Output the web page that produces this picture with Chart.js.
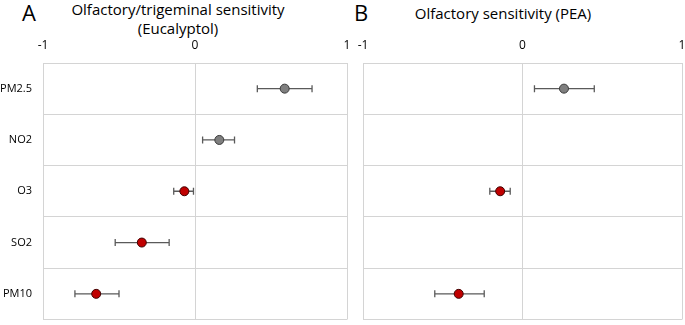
<!DOCTYPE html>
<html>
<head>
<meta charset="utf-8">
<script src="https://cdn.jsdelivr.net/npm/chart.js@4"></script>
<style>
  html, body { margin: 0; padding: 0; background: #fff; }
  body { width: 685px; height: 325px; position: relative; overflow: hidden; font-family: 'Open Sans', sans-serif; color: #000; }
  canvas { position: absolute; top: 0; }
  .letter { position: absolute; top: -3px; font-size: 22px; }
  .title { position: absolute; font-size: 15px; text-align: center; line-height: 19px; }
</style>
</head>
<body>
<div class="letter" style="left:22px">A</div>
<div class="title" style="left:28px; width:300px; top:0px">Olfactory/trigeminal sensitivity<br>(Eucalyptol)</div>
<div class="letter" style="left:354px">B</div>
<div class="title" style="left:398px; width:210px; top:4px">Olfactory sensitivity (PEA)</div>
<canvas id="chart-euc" width="355" height="325" style="left:0"></canvas>
<canvas id="chart-pea" width="340" height="325" style="left:355px"></canvas>
<script>
// ── data ──
const CATS = ['PM2.5', 'NO2', 'O3', 'SO2', 'PM10'];
const X_TICKS = [-1, 0, 1];

const EUC_MEAN = [0.59, 0.16, -0.07, -0.35, -0.65];
const EUC_LO   = [0.41, 0.05, -0.14, -0.525, -0.79];
const EUC_HI   = [0.77, 0.26, -0.01, -0.17, -0.50];

const PEA_MEAN = [0.26, null, -0.14, null, -0.40];
const PEA_LO   = [0.075, null, -0.205, null, -0.55];
const PEA_HI   = [0.45, null, -0.077, null, -0.24];

const DOT_COLORS = ['#7f7f7f', '#7f7f7f', '#c00000', '#c00000', '#c00000'];

const GRID = '#d4d4d4';
const FONT_X = { family: 'Open Sans', size: 12 };
const FONT_Y = { family: 'Open Sans', size: 11 };

// horizontal error bars, drawn under the markers
const errorBars = {
  id: 'errorBars',
  beforeDatasetsDraw(chart, args, opts) {
    const { ctx, scales: { x, y } } = chart;
    ctx.save();
    ctx.strokeStyle = '#5a5a5a';
    ctx.lineWidth = 1.3;
    CATS.forEach((c, i) => {
      if (opts.lo[i] == null) return;
      const py = y.getPixelForValue(i);
      const x0 = x.getPixelForValue(opts.lo[i]);
      const x1 = x.getPixelForValue(opts.hi[i]);
      ctx.beginPath();
      ctx.moveTo(x0, py); ctx.lineTo(x1, py);
      ctx.moveTo(x0, py - 3.5); ctx.lineTo(x0, py + 3.5);
      ctx.moveTo(x1, py - 3.5); ctx.lineTo(x1, py + 3.5);
      ctx.stroke();
    });
    ctx.restore();
  }
};

// fixed axis box sizes, no extra room for overhanging tick labels
const fixAxis = (w, h) => s => {
  s.paddingLeft = 0; s.paddingRight = 0; s.paddingTop = 0; s.paddingBottom = 0;
  if (w != null) s.width = w;
  if (h != null) s.height = h;
};

function buildForest(id, mean, lo, hi, showLabels, yWidth, pad) {
  const idx = CATS.map((c, i) => i).filter(i => mean[i] != null);
  const cols = idx.map(i => DOT_COLORS[i]);
  return new Chart(document.getElementById(id), {
    type: 'scatter',
    data: {
      datasets: [{
        data: idx.map(i => ({ x: mean[i], y: CATS[i] })),
        pointBackgroundColor: cols,
        pointBorderColor: cols.map(c => c === '#c00000' ? '#400000' : '#3a3a3a'),
        pointBorderWidth: 1,
        pointRadius: 4.5,
        showLine: false,
      }]
    },
    options: {
      responsive: false,
      animation: false,
      layout: { padding: pad },
      plugins: {
        legend: { display: false },
        tooltip: { enabled: false },
        errorBars: { lo: lo, hi: hi },
      },
      scales: {
        x: {
          type: 'linear', position: 'top', min: -1, max: 1,
          afterBuildTicks: s => { s.ticks = X_TICKS.map(v => ({ value: v })); },
          afterFit: fixAxis(null, 25),
          grid: { color: GRID, drawTicks: false, lineWidth: 1 },
          border: { display: false },
          ticks: { font: FONT_X, color: '#000', padding: 10 },
        },
        y: {
          type: 'category', labels: CATS, offset: true,
          afterFit: fixAxis(yWidth, null),
          grid: { color: GRID, offset: true, drawTicks: false, lineWidth: 1 },
          border: { display: false },
          ticks: { display: showLabels, font: FONT_Y, color: '#000', padding: 11 },
        }
      }
    },
    plugins: [errorBars]
  });
}

buildForest('chart-euc', EUC_MEAN, EUC_LO, EUC_HI, true, 43, { left: 0, right: 8, top: 38, bottom: 2 });
buildForest('chart-pea', PEA_MEAN, PEA_LO, PEA_HI, false, 0, { left: 8, right: 13, top: 38, bottom: 2 });
</script>
</body>
</html>
